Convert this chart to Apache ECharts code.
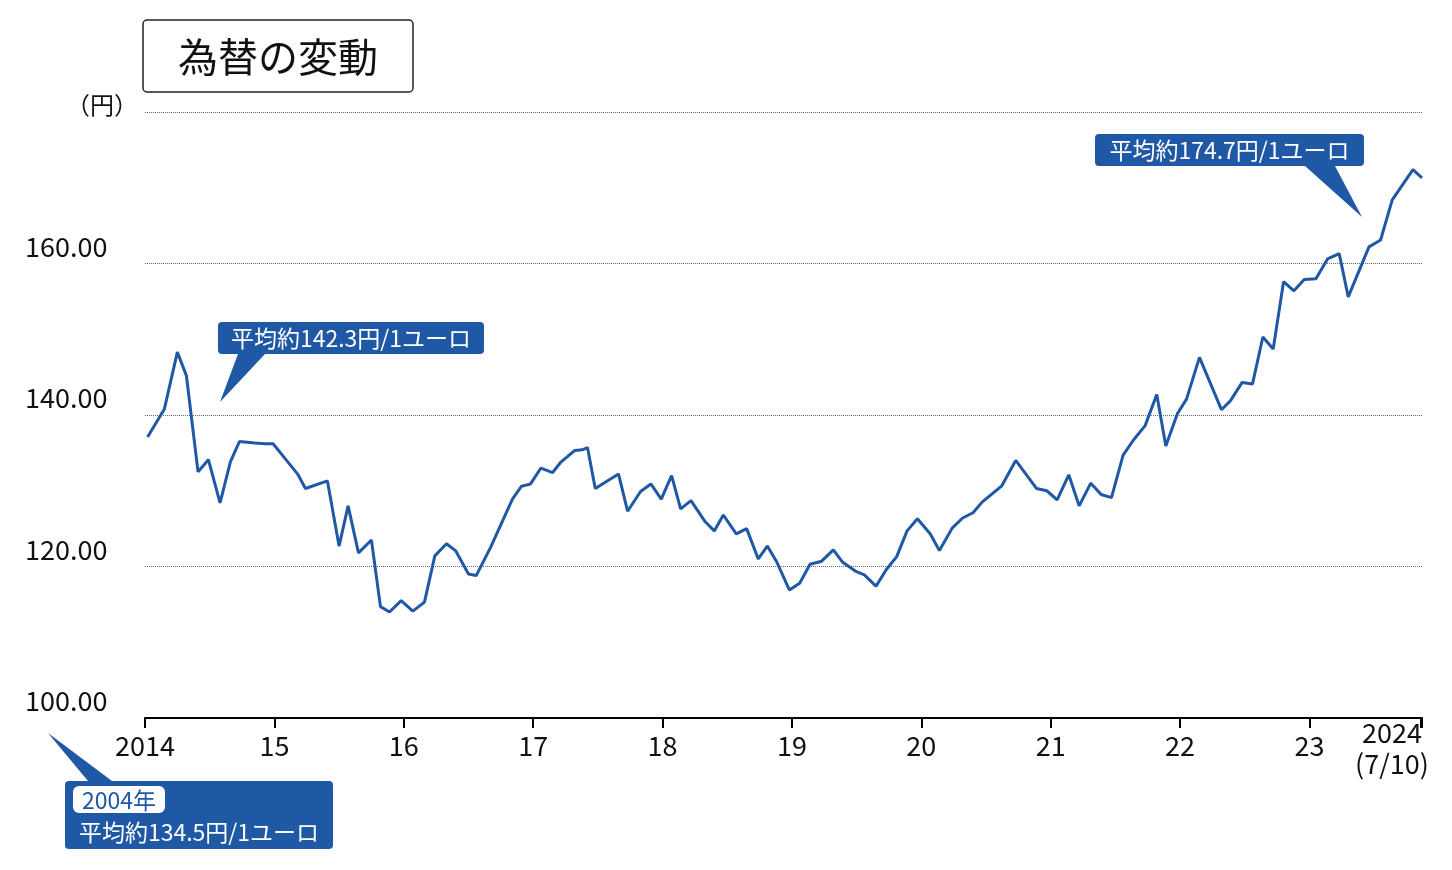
<!DOCTYPE html>
<html><head><meta charset="utf-8">
<script src="https://cdn.jsdelivr.net/npm/echarts@6/dist/echarts.min.js"></script>
<style>html,body{margin:0;background:#fff}#c{width:1452px;height:870px}</style>
</head><body><div id="c"></div>
<script>
const yearOffsets = [0.02,0.15,0.25,0.32,0.41,0.49,0.58,0.66,0.73,0.85,0.93,0.99,1.08,1.18,1.24,1.41,1.50,1.57,1.65,1.75,1.82,1.89,1.98,2.07,2.16,2.24,2.33,2.40,2.50,2.56,2.67,2.84,2.91,2.98,3.06,3.15,3.21,3.32,3.38,3.42,3.48,3.66,3.73,3.83,3.91,3.99,4.07,4.14,4.22,4.33,4.40,4.47,4.57,4.65,4.74,4.81,4.88,4.98,5.06,5.14,5.23,5.32,5.39,5.49,5.56,5.65,5.73,5.81,5.89,5.97,6.07,6.14,6.24,6.32,6.40,6.47,6.62,6.73,6.89,6.97,7.05,7.14,7.22,7.31,7.39,7.47,7.56,7.64,7.73,7.82,7.89,7.98,8.05,8.15,8.32,8.39,8.48,8.56,8.64,8.72,8.80,8.88,8.96,9.05,9.14,9.23,9.30,9.46,9.55,9.64,9.80,9.87];
const rates = [137.1,140.8,148.3,145.2,132.5,134.1,128.4,133.8,136.5,136.3,136.2,136.2,134.3,132.2,130.3,131.3,122.7,128.0,121.8,123.5,114.7,114.0,115.5,114.1,115.3,121.4,123.0,122.1,119.0,118.8,122.5,128.9,130.6,130.9,133.0,132.4,133.7,135.3,135.4,135.7,130.3,132.2,127.3,129.9,130.9,128.9,132.0,127.6,128.7,125.9,124.7,126.8,124.3,125.0,121.0,122.7,120.7,116.9,117.8,120.3,120.7,122.2,120.6,119.4,118.9,117.4,119.6,121.3,124.7,126.3,124.3,122.1,125.1,126.4,127.1,128.5,130.6,134.0,130.3,130.0,128.8,132.1,128.0,131.0,129.5,129.1,134.7,136.7,138.6,142.7,135.9,140.2,142.1,147.6,140.7,141.9,144.3,144.1,150.3,148.7,157.6,156.4,157.9,158.0,160.6,161.3,155.6,162.2,163.1,168.4,172.4,171.3];
const startYear = 2014;
const yTicks = [100,120,140,160,180];
const blue = '#1f58a5';
const font = '"Noto Sans CJK JP", "Noto Sans", sans-serif';
const chart = echarts.init(document.getElementById('c'));
const data = yearOffsets.map((o,i)=>[startYear+o, rates[i]]);
function callout(x,y,w,h,text,tri){
  return [
    {type:'polygon',shape:{points:tri},style:{fill:blue}},
    {type:'rect',shape:{x:x,y:y,width:w,height:h,r:4},style:{fill:blue}},
    {type:'text',x:x+w/2,y:y+h/2,style:{text:text,fill:'#fff',font:'23px '+font,align:'center',verticalAlign:'middle'}}
  ];
}
chart.setOption({
  animation:false,
  grid:{left:145,right:30,top:112,bottom:152},
  xAxis:{type:'value',min:2014,max:2023.87,interval:1,
    axisLine:{lineStyle:{color:'#000',width:2}},
    axisTick:{length:10,lineStyle:{color:'#000',width:2}},
    splitLine:{show:false},showMaxLabel:false,
    axisLabel:{margin:14,color:'#111',fontSize:27,fontFamily:font,
      formatter:v=>{if(Math.abs(v-Math.round(v))>0.01)return '';v=Math.round(v);return v===2014?'2014':String(v%100);}}},
  yAxis:{type:'value',min:100,max:180,interval:20,
    axisLine:{show:false},axisTick:{show:false},
    splitLine:{lineStyle:{color:'#666',type:'dotted',width:1}},
    axisLabel:{color:'#111',fontSize:27,fontFamily:font,align:'left',margin:120,
      formatter:v=>v===180?'':v.toFixed(2),verticalAlign:'bottom',lineHeight:34}},
  series:[{type:'line',data:data,showSymbol:false,lineStyle:{color:blue,width:3},itemStyle:{color:blue}}],
  graphic:[
    {type:'rect',shape:{x:143,y:20,width:270,height:72,r:4},style:{fill:'#fff',stroke:'#222',lineWidth:1.5}},
    {type:'text',x:278,y:57,style:{text:'為替の変動',font:'40px '+font,fill:'#111',align:'center',verticalAlign:'middle'}},
    {type:'text',x:66,y:105,style:{text:'（円）',font:'24px '+font,fill:'#111',align:'left',verticalAlign:'middle'}},
    {type:'line',shape:{x1:1421,y1:718,x2:1421,y2:728},style:{stroke:'#000',lineWidth:2}},
    {type:'text',x:1392,y:748,style:{text:'2024\n(7/10)',font:'27px '+font,fill:'#111',align:'center',verticalAlign:'middle',lineHeight:31}},
    ...callout(218,322,266,32,'平均約142.3円/1ユーロ',[[238,354],[265,354],[220,402]]),
    ...callout(1095,134,269,32,'平均約174.7円/1ユーロ',[[1305,166],[1335,166],[1362,217]]),
    {type:'polygon',shape:{points:[[88,781],[112,781],[48,733]]},style:{fill:blue}},
    {type:'rect',shape:{x:65,y:781,width:268,height:68,r:4},style:{fill:blue}},
    {type:'rect',shape:{x:73,y:786,width:92,height:27,r:6},style:{fill:'#fff'}},
    {type:'text',x:119,y:800,style:{text:'2004年',font:'23px '+font,fill:blue,align:'center',verticalAlign:'middle'}},
    {type:'text',x:199,y:832,style:{text:'平均約134.5円/1ユーロ',font:'23px '+font,fill:'#fff',align:'center',verticalAlign:'middle'}}
  ]
});
</script></body></html>
